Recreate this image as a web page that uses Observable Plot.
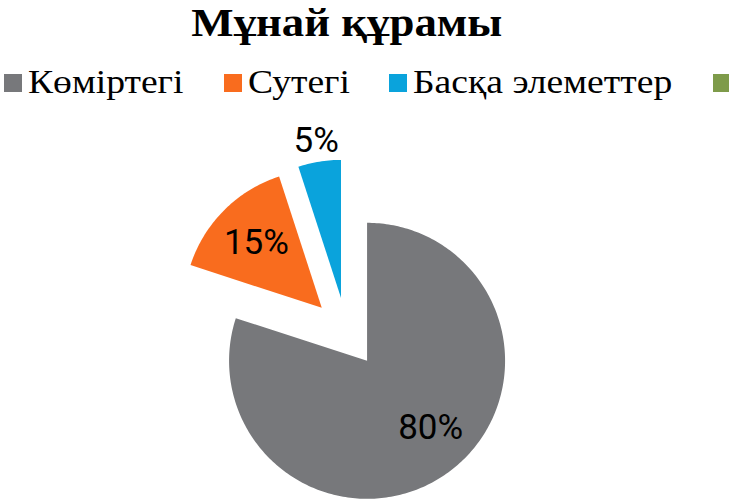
<!DOCTYPE html>
<html>
<head>
<meta charset="utf-8">
<script src="https://cdn.jsdelivr.net/npm/d3@7"></script>
<script src="https://cdn.jsdelivr.net/npm/@observablehq/plot@0.6"></script>
<style>
  html, body { margin: 0; padding: 0; background: #fff; overflow: hidden; }
  #wrap { position: relative; width: 729px; height: 502px; }
  #head { position: relative; width: 729px; height: 110px; }
  #title { position: absolute; left: 0; top: 0; width: 693px; text-align: center;
           font-family: "Liberation Serif", "Times New Roman", serif; font-weight: bold;
           font-size: 40px; line-height: 45px; height: 45px; color: #000; white-space: nowrap; }
  #title span { display: inline-block; transform: scaleX(1.12); transform-origin: center; }
  #legend { position: absolute; left: 4px; top: 66px; display: flex; align-items: center;
            font-family: "Liberation Serif", "Times New Roman", serif; font-size: 33px;
            line-height: 33px; color: #000; white-space: nowrap; }
  .item { display: flex; align-items: center; margin-right: 40px; }
  .sw { width: 18px; height: 18px; margin-right: 6px; flex: none; }
  .lbl { display: inline-block; }
  .lbl span { display: inline-block; transform-origin: left center; }
  #chart svg { display: block; }
</style>
</head>
<body>
<div id="wrap">
  <div id="head">
    <div id="title"><span></span></div>
    <div id="legend"></div>
  </div>
  <div id="chart"></div>
</div>
<script>
const title = "Мұнай құрамы";
const categories = ["Көміртегі", "Сутегі", "Басқа элеметтер", ""];
const values = [80, 15, 5, 0];
const percentLabels = ["80%", "15%", "5%", ""];
const colors = ["#77787b", "#f96c1e", "#0aa3dc", "#7e9b4a"];

document.querySelector("#title span").textContent = title;

const STRETCH = 1.14;
const legend = d3.select("#legend");
categories.forEach((c, i) => {
  const it = legend.append("div").attr("class", "item");
  it.append("div").attr("class", "sw").style("background", colors[i]);
  if (c) {
    const outer = it.append("span").attr("class", "lbl");
    const inner = outer.append("span").text(c);
    const w = inner.node().getBoundingClientRect().width;
    outer.style("width", (w * STRETCH) + "px");
    inner.style("transform", `scaleX(${STRETCH})`);
  }
});

const W = 729, H = 392;
const cx = 346, cy = 222, R = 138, EXPLODE = 35;

const data = categories.map((c, i) => ({cat: c, value: values[i], label: percentLabels[i]}));
const arcs = d3.pie().sort(null).value(d => d.value)(data);

const points = [];
const labels = [];
arcs.forEach(a => {
  if (a.data.value <= 0) return;
  const mid = (a.startAngle + a.endAngle) / 2;
  const ox = cx + EXPLODE * Math.sin(mid), oy = cy - EXPLODE * Math.cos(mid);
  points.push({cat: a.data.cat, x: ox, y: oy});
  const n = Math.max(8, Math.ceil((a.endAngle - a.startAngle) / (Math.PI / 180)));
  for (let k = 0; k <= n; k++) {
    const t = a.startAngle + (a.endAngle - a.startAngle) * k / n;
    points.push({cat: a.data.cat, x: ox + R * Math.sin(t), y: oy - R * Math.cos(t)});
  }
  points.push({cat: a.data.cat, x: ox, y: oy});
  const big = a.data.value >= 50;
  const lr = a.data.value >= 10 ? 0.67 * R : R + 21;
  const la = big ? mid - 0.13 : mid;
  labels.push({text: a.data.label, x: ox + lr * Math.sin(la), y: oy - lr * Math.cos(la)});
});

const chart = Plot.plot({
  width: W, height: H, margin: 0,
  style: {background: "#fff"},
  x: {domain: [0, W], range: [0, W], axis: null},
  y: {domain: [0, H], range: [0, H], axis: null},
  color: {domain: categories, range: colors},
  marks: [
    Plot.line(points, {x: "x", y: "y", z: "cat", fill: "cat", stroke: "none", curve: "linear"}),
    Plot.text(labels, {x: "x", y: "y", text: "text", fontSize: 35, fontFamily: "Roboto",
      fill: "#000", textAnchor: "middle", lineAnchor: "middle"})
  ]
});
document.getElementById("chart").appendChild(chart);
</script>
</body>
</html>
